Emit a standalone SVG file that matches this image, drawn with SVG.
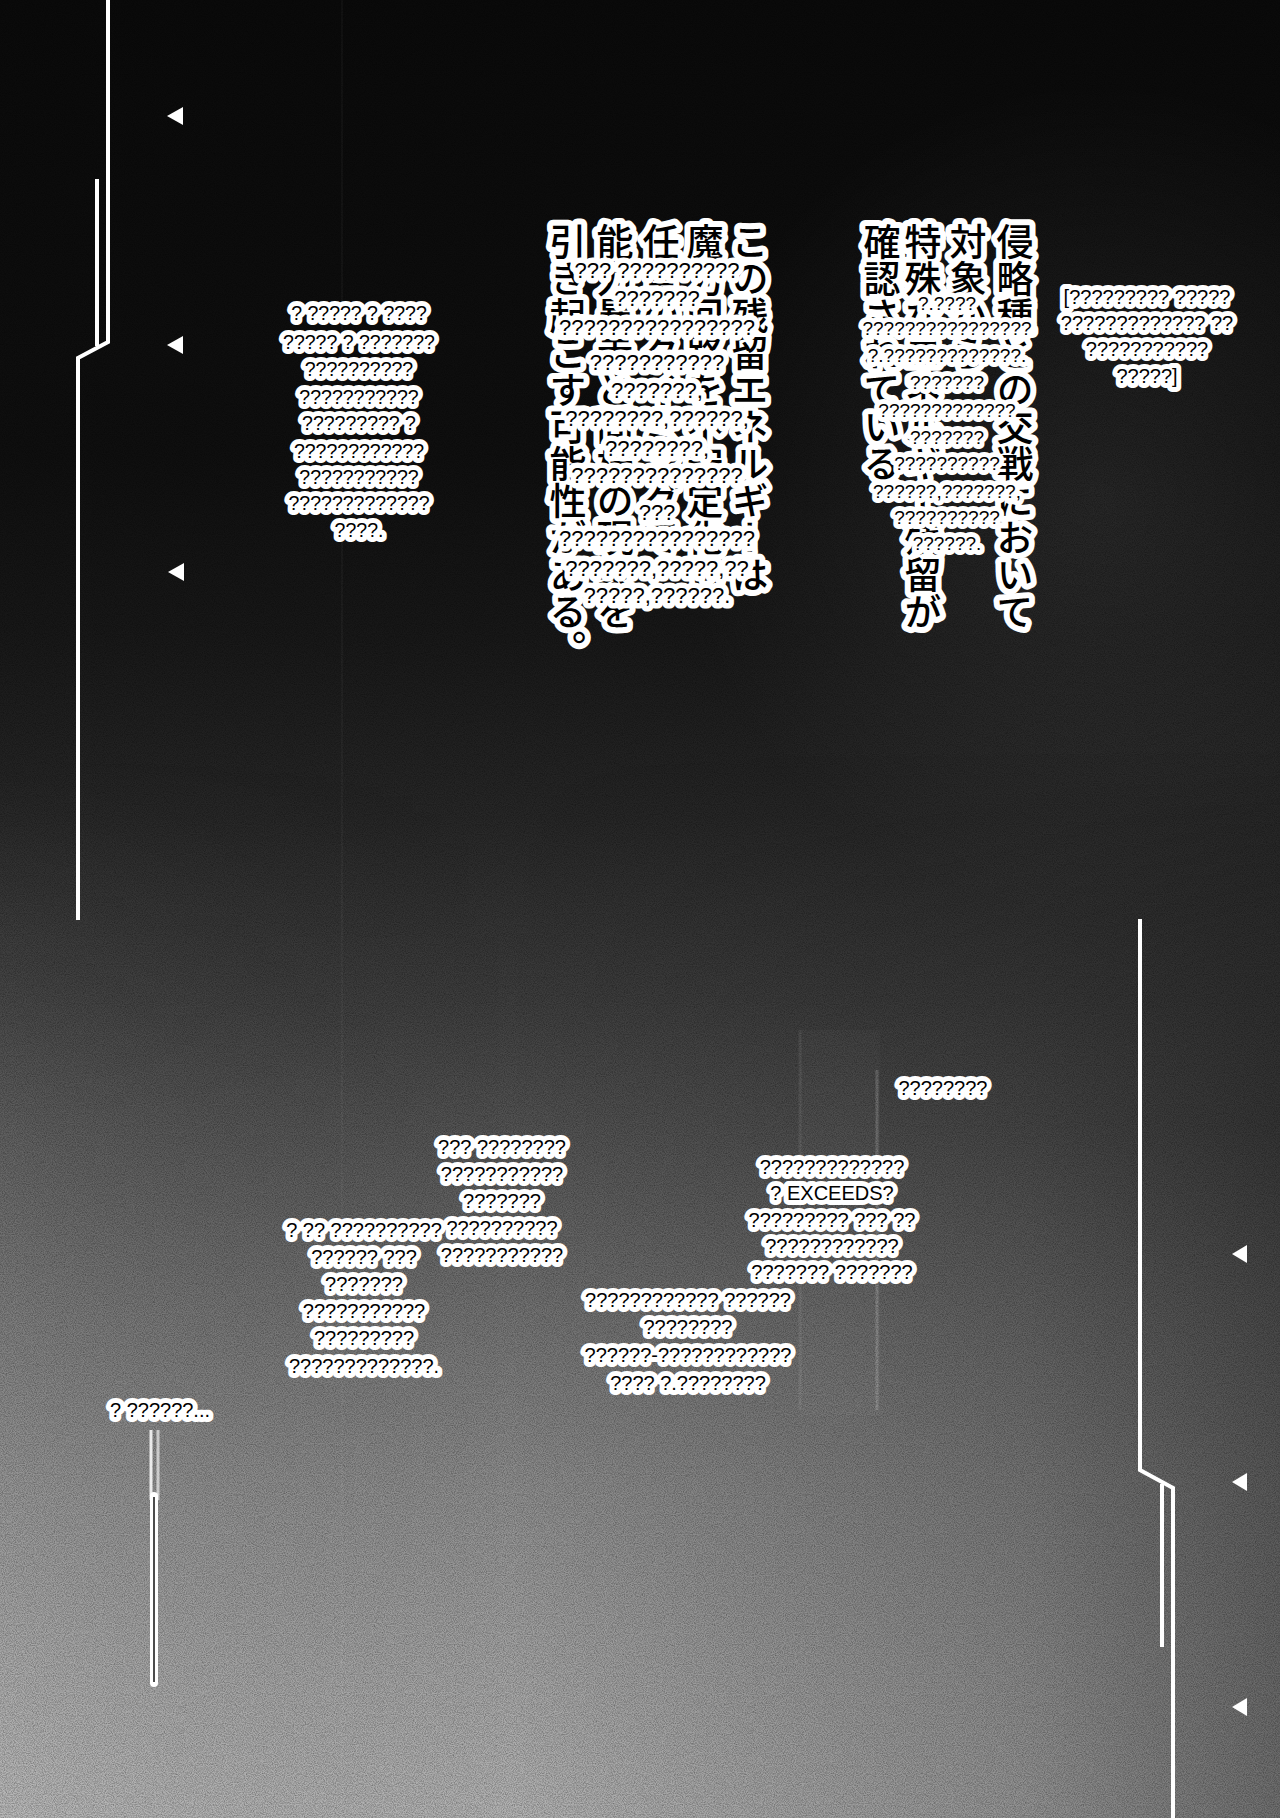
<svg xmlns="http://www.w3.org/2000/svg" width="1280" height="1818" viewBox="0 0 1280 1818">
<defs>
<linearGradient id="bg" x1="0" y1="0" x2="0" y2="1">
<stop offset="0" stop-color="#0a0a0a"/>
<stop offset="0.25" stop-color="#0f0f0f"/>
<stop offset="0.35" stop-color="#181818"/>
<stop offset="0.45" stop-color="#272727"/>
<stop offset="0.55" stop-color="#3e3e3e"/>
<stop offset="0.63" stop-color="#575757"/>
<stop offset="0.72" stop-color="#737373"/>
<stop offset="0.82" stop-color="#8f8f8f"/>
<stop offset="0.92" stop-color="#a5a5a5"/>
<stop offset="1" stop-color="#b4b4b4"/>
</linearGradient>
<linearGradient id="side" x1="0" y1="0" x2="1" y2="0">
<stop offset="0" stop-color="#fff" stop-opacity="0.07"/>
<stop offset="0.4" stop-color="#000" stop-opacity="0"/>
<stop offset="0.8" stop-color="#000" stop-opacity="0.18"/>
<stop offset="1" stop-color="#000" stop-opacity="0.38"/>
</linearGradient>
<linearGradient id="fadeV" x1="0" y1="0" x2="0" y2="1">
<stop offset="0" stop-color="#fff" stop-opacity="0"/>
<stop offset="0.35" stop-color="#fff" stop-opacity="1"/>
<stop offset="1" stop-color="#fff" stop-opacity="1"/>
</linearGradient>
<mask id="lowerMask"><rect x="0" y="750" width="1280" height="1068" fill="url(#fadeV)"/></mask>
<radialGradient id="glow" cx="1100" cy="500" r="420" gradientUnits="userSpaceOnUse">
<stop offset="0" stop-color="#fff" stop-opacity="0.09"/>
<stop offset="1" stop-color="#fff" stop-opacity="0"/>
</radialGradient>
<filter id="grain" x="0" y="0" width="100%" height="100%">
<feTurbulence type="fractalNoise" baseFrequency="0.9" numOctaves="2" seed="7"/>
<feColorMatrix type="matrix" values="0 0 0 0 0  0 0 0 0 0  0 0 0 0 0  0.6 0 0 0 -0.2"/>
</filter>
<style>
.ln{fill:none;stroke:#fff;stroke-width:4;stroke-linejoin:miter}
.tri{fill:#fff}
.lbl{font-family:"Liberation Sans",Arial,sans-serif;font-size:20px;fill:#000;stroke:#fff;stroke-width:10;stroke-linejoin:round;paint-order:stroke;text-anchor:middle}
.s19{font-size:19.5px}
.rj{font-size:19px}
.big{font-size:22px;stroke-width:11}
.jp{font-family:"Noto Sans CJK JP","Noto Sans CJK SC",sans-serif;font-size:37px;font-weight:500;fill:#000;stroke:#fff;stroke-width:12;stroke-linejoin:round;paint-order:stroke;writing-mode:vertical-rl}
</style>
</defs>

<g id="background">
<rect width="1280" height="1818" fill="url(#bg)"/>
<rect width="1280" height="1818" fill="url(#glow)"/>
<rect x="0" y="750" width="1280" height="1068" fill="url(#side)" mask="url(#lowerMask)"/>
<rect x="800" y="1030" width="80" height="385" fill="#fff" opacity="0.025"/>
<line x1="800" y1="1030" x2="800" y2="1410" stroke="#fff" stroke-width="3" opacity="0.08"/>
<line x1="877" y1="1070" x2="877" y2="1410" stroke="#fff" stroke-width="3" opacity="0.18"/>
<line x1="342" y1="0" x2="342" y2="1818" stroke="#fff" stroke-width="2" opacity="0.03"/>
<rect width="1280" height="1818" filter="url(#grain)"/>
</g>

<g id="connectors">
<path class="ln" d="M108,0 V342 L78,358 V920"/>
<path class="ln" d="M97,179 V346"/>
<path class="ln" d="M1140,919 V1470 L1173,1488 V1818"/>
<path class="ln" d="M1162,1484 V1647"/>
<line x1="151" y1="1430" x2="151" y2="1500" stroke="#fff" stroke-width="3" opacity="0.85"/>
<line x1="158" y1="1430" x2="158" y2="1500" stroke="#fff" stroke-width="3" opacity="0.6"/>
<line x1="154" y1="1496" x2="154" y2="1683" stroke="#fff" stroke-width="8" stroke-linecap="round"/>
<line x1="154" y1="1497" x2="154" y2="1682" stroke="#111" stroke-width="1.5"/>
<polygon class="tri" points="167,116 183,107 183,125"/>
<polygon class="tri" points="167,345 183,336 183,354"/>
<polygon class="tri" points="168,572 184,563 184,581"/>
<polygon class="tri" points="1232,1254 1247,1245 1247,1263"/>
<polygon class="tri" points="1232,1482 1247,1473 1247,1491"/>
<polygon class="tri" points="1232,1707 1247,1698 1247,1716"/>
</g>

<g id="jp-right">
<text class="jp" x="1015" y="223">侵略種との交戦において</text>
<text class="jp" x="968" y="223">対象から</text>
<text class="jp" x="923" y="223">特殊なエネルギー残留が</text>
<text class="jp" x="882" y="223">確認されている。</text>
</g>

<g id="jp-left">
<text class="jp" x="750" y="223">この残留エネルギーは</text>
<text class="jp" x="705" y="223">魔力回路を不安定化し</text>
<text class="jp" x="661" y="223">任意のタイミングで</text>
<text class="jp" x="615" y="223">能力暴走と同様の現象を</text>
<text class="jp" x="568" y="223">引き起こす可能性がある。</text>
</g>

<g id="label-top-left">
<text class="lbl s19" x="359" y="320">? ????? ? ????</text>
<text class="lbl s19" x="359" y="349">????? ? ???????</text>
<text class="lbl s19" x="359" y="376">??????????</text>
<text class="lbl s19" x="359" y="404">???????????</text>
<text class="lbl s19" x="359" y="430">????????? ?</text>
<text class="lbl s19" x="359" y="458">????????????</text>
<text class="lbl s19" x="359" y="484">???????????</text>
<text class="lbl s19" x="359" y="510">?????????????</text>
<text class="lbl s19" x="359" y="537">????.</text>
</g>

<g id="label-jp-left">
<text class="lbl big" x="657" y="278">??? ??????????</text>
<text class="lbl big" x="657" y="306">???????</text>
<text class="lbl big" x="657" y="335">????????????????</text>
<text class="lbl big" x="657" y="370">???????????</text>
<text class="lbl big" x="657" y="398">???????,</text>
<text class="lbl big" x="657" y="426">????????,??????,</text>
<text class="lbl big" x="657" y="456">????????,</text>
<text class="lbl big" x="657" y="483">??????????????</text>
<text class="lbl big" x="657" y="520">???</text>
<text class="lbl big" x="657" y="546">????????????????</text>
<text class="lbl big" x="657" y="576">???????,?????,??</text>
<text class="lbl big" x="657" y="603">?????,??????.</text>
</g>

<g id="label-jp-right">
<text class="lbl rj" x="947" y="310">?.????</text>
<text class="lbl rj" x="947" y="335">????????????????</text>
<text class="lbl rj" x="947" y="362">?.?????????????.</text>
<text class="lbl rj" x="947" y="389">???????</text>
<text class="lbl rj" x="947" y="417">?????????????</text>
<text class="lbl rj" x="947" y="444">???????</text>
<text class="lbl rj" x="947" y="470">??????????</text>
<text class="lbl rj" x="947" y="498">??????,???????,</text>
<text class="lbl rj" x="947" y="524">??????????</text>
<text class="lbl rj" x="947" y="550">??????.</text>
</g>

<g id="label-top-right">
<text class="lbl" x="1147" y="304">[????????? ?????</text>
<text class="lbl" x="1147" y="330">????????????? ??</text>
<text class="lbl" x="1147" y="356">???????????</text>
<text class="lbl" x="1147" y="383">?????]</text>
</g>

<g id="label-a">
<text class="lbl" x="502" y="1154">??? ????????</text>
<text class="lbl" x="502" y="1181">???????????</text>
<text class="lbl" x="502" y="1208">???????</text>
<text class="lbl" x="502" y="1235">??????????</text>
<text class="lbl" x="502" y="1262">???????????</text>
</g>

<g id="label-b">
<text class="lbl" x="364" y="1237">? ?? ??????????</text>
<text class="lbl" x="364" y="1264">?????? ???</text>
<text class="lbl" x="364" y="1291">???????</text>
<text class="lbl" x="364" y="1318">???????????</text>
<text class="lbl" x="364" y="1345">?????????</text>
<text class="lbl" x="364" y="1373">?????????????.</text>
</g>

<g id="label-c">
<text class="lbl" x="943" y="1095">????????</text>
</g>

<g id="label-d">
<text class="lbl" x="832" y="1174">?????????????</text>
<text class="lbl" x="832" y="1200">? EXCEEDS?</text>
<text class="lbl" x="832" y="1227">????????? ??? ??</text>
<text class="lbl" x="832" y="1253">????????????</text>
<text class="lbl" x="832" y="1279">??????? ???????</text>
</g>

<g id="label-e">
<text class="lbl" x="688" y="1307">???????????? ??????</text>
<text class="lbl" x="688" y="1334">????????</text>
<text class="lbl" x="688" y="1362">??????-????????????</text>
<text class="lbl" x="688" y="1390">???? ?.????????</text>
</g>

<g id="label-f">
<text class="lbl" x="160" y="1417">? ??????...</text>
</g>
</svg>
